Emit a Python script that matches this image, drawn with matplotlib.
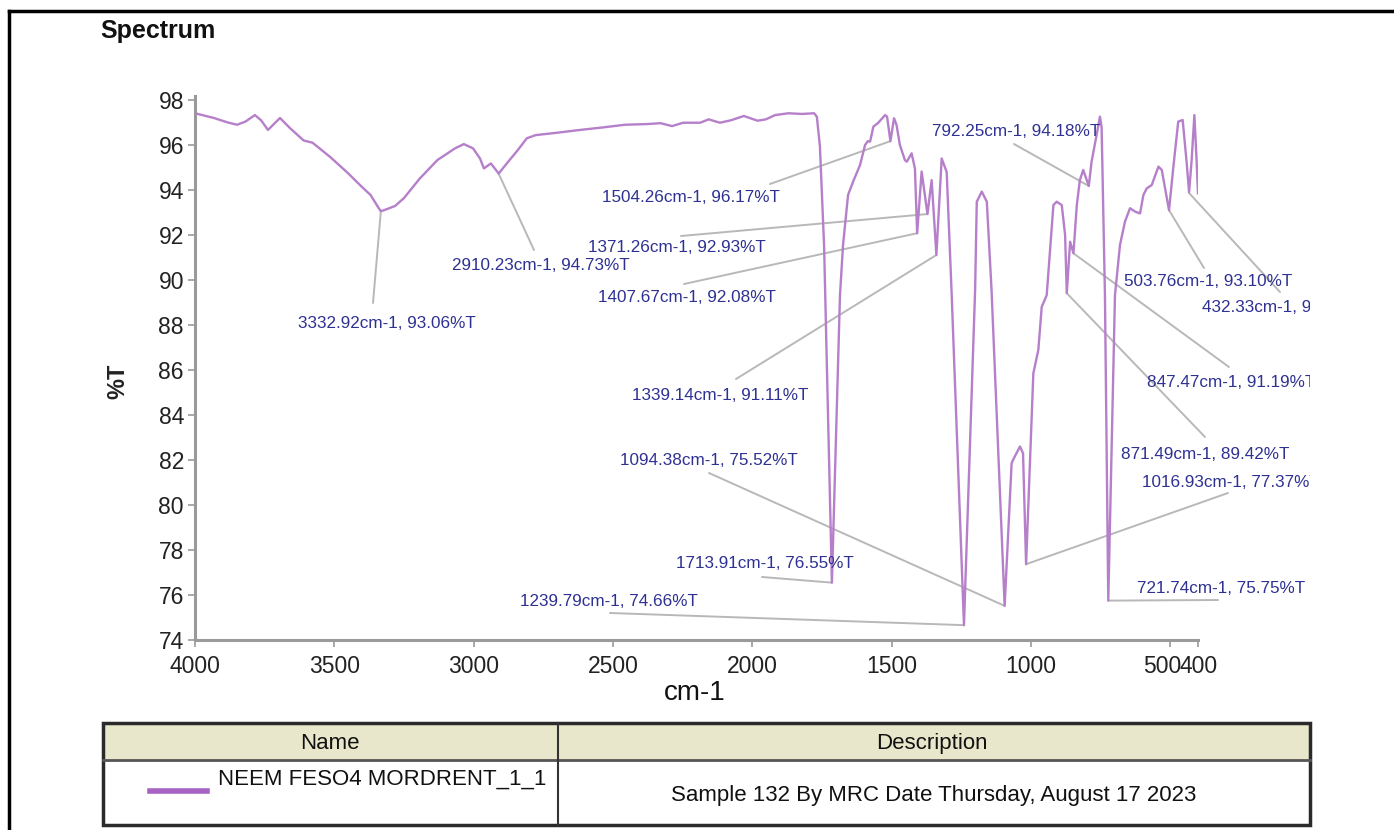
import matplotlib
matplotlib.use("Agg")
import matplotlib.pyplot as plt
from matplotlib.patches import Rectangle
from matplotlib.lines import Line2D
from matplotlib.transforms import Bbox, TransformedBbox, ScaledTranslation

# spectrum trace (wavenumber cm-1, %T)
wavenumber = [4000, 3932, 3882, 3849, 3819, 3785, 3763, 3738, 3695, 3659, 3610, 3578,
              3515, 3451, 3402, 3370, 3341, 3333, 3322, 3282, 3250, 3194, 3130, 3067,
              3035, 3002, 2977, 2963, 2938, 2910, 2881, 2841, 2809, 2777, 2697, 2618,
              2537, 2457, 2378, 2329, 2288, 2248, 2187, 2156, 2116, 2076, 2030, 1981,
              1951, 1918, 1870, 1822, 1778, 1768, 1757, 1742, 1714, 1685, 1674, 1656,
              1638, 1613, 1595, 1585, 1577, 1565, 1549, 1523, 1516, 1504, 1491, 1482,
              1470, 1452, 1445, 1428, 1416, 1408, 1392, 1371, 1356, 1339, 1320, 1302,
              1284, 1240, 1200, 1194, 1176, 1158, 1141, 1094, 1069, 1064, 1039, 1028,
              1017, 991, 973, 961, 943, 919, 907, 889, 877, 871, 859, 847, 835, 824,
              812, 792, 782, 764, 752, 746, 734, 722, 698, 680, 662, 644, 626, 608,
              596, 584, 566, 542, 530, 518, 504, 489, 471, 455, 441, 432, 423, 413,
              405, 400]
transmittance = [97.41, 97.2, 97.0, 96.9, 97.04, 97.33, 97.1, 96.67, 97.2, 96.75, 96.2, 96.1,
                 95.47, 94.75, 94.15, 93.78, 93.2, 93.06, 93.1, 93.29, 93.64, 94.5, 95.33, 95.85,
                 96.04, 95.85, 95.4, 94.96, 95.18, 94.73, 95.18, 95.78, 96.3, 96.44, 96.55, 96.67,
                 96.78, 96.9, 96.93, 96.97, 96.84, 96.99, 96.99, 97.14, 96.99, 97.1, 97.29, 97.08,
                 97.14, 97.33, 97.41, 97.38, 97.41, 97.26, 95.93, 91.5, 76.55, 89.33, 91.56, 93.78,
                 94.37, 95.11, 96.0, 96.17, 96.15, 96.82, 96.97, 97.33, 97.26, 96.17, 97.19, 96.89,
                 96.0, 95.33, 95.26, 95.63, 94.96, 92.08, 94.82, 92.93, 94.44, 91.11, 95.4, 94.8,
                 89.33, 74.66, 89.56, 93.48, 93.93, 93.48, 89.56, 75.52, 81.85, 82.0, 82.6, 82.3,
                 77.37, 85.85, 86.9, 88.8, 89.33, 93.33, 93.48, 93.33, 92.0, 89.42, 91.7, 91.19,
                 93.33, 94.44, 94.89, 94.18, 95.26, 96.44, 97.26, 96.8, 89.33, 75.75, 89.33, 91.56,
                 92.6, 93.19, 93.04, 92.96, 93.78, 94.07, 94.22, 95.04, 94.89, 94.07, 93.10, 94.96,
                 97.04, 97.11, 95.26, 93.9, 95.3, 97.33, 95.3, 93.85]

# labelled peaks
peak_wn = [3332.92, 2910.23, 1504.26, 1371.26, 1407.67, 1339.14, 1094.38, 1713.91,
           1239.79, 792.25, 503.76, 432.33, 847.47, 871.49, 1016.93, 721.74]
peak_t = [93.06, 94.73, 96.17, 92.93, 92.08, 91.11, 75.52, 76.55,
          74.66, 94.18, 93.10, 93.87, 91.19, 89.42, 77.37, 75.75]

x_ticks = [4000, 3500, 3000, 2500, 2000, 1500, 1000, 500, 400]
y_ticks = list(range(74, 99, 2))

sample_name = "NEEM FESO4 MORDRENT_1_1"
sample_desc = "Sample 132 By MRC Date Thursday, August 17 2023"

# label layout, figure pixels from top-left: text left x, text centre y, leader start
label_xy = [(298, 323), (452, 265), (602, 198), (588, 247), (598, 298), (632, 395),
            (620, 460), (676, 564), (520, 602), (932, 132), (1124, 281), (1202, 307),
            (1147, 382), (1121, 454), (1142, 482), (1137, 588)]
leader_xy = [(373, 303), (534, 250), (770, 184), (681, 236), (684, 284), (736, 379),
             (709, 473), (762, 577), (610, 613), (1014, 144), (1204, 268), (1280, 292),
             (1229, 367), (1205, 437), (1228, 493), (1218, 600)]

W, H = 1394, 830
line_col = "#b67fca"
lbl_col = "#2e3192"
narrow = ["Liberation Sans Narrow", "Liberation Sans", "DejaVu Sans"]
regular = ["Liberation Sans", "DejaVu Sans"]

fig = plt.figure(figsize=(W / 100, H / 100), dpi=100)


def fx(px):
    return px / W


def fy(py):
    return 1 - py / H


ax_top, ax_bot = 95.5, 640
ax = fig.add_axes([fx(195), fy(ax_bot), fx(1198) - fx(195), fy(ax_top) - fy(ax_bot)])
ax.plot(wavenumber, transmittance, color=line_col, lw=1.7, zorder=3)
ax.set_xlim(4000, 400)
ax.set_ylim(74, 98.2)
ax.set_xticks(x_ticks)
ax.set_yticks(y_ticks)
for s in ["top", "right"]:
    ax.spines[s].set_visible(False)
for s in ["left", "bottom"]:
    ax.spines[s].set_color("#9a9a9a")
    ax.spines[s].set_linewidth(2.2)
ax.tick_params(direction="out", length=5, width=1.2, color="#9a9a9a",
               labelcolor="#222222", labelsize=16.5)
ax.tick_params(axis="y", pad=3)
ax.tick_params(axis="x", pad=6)
for t in ax.get_xticklabels() + ax.get_yticklabels():
    t.set_family(narrow)
# the 500 and 400 labels sit side by side as "500400"
xl = ax.get_xticklabels()
xl[-2].set_transform(xl[-2].get_transform() + ScaledTranslation(-8 / 100, 0, fig.dpi_scale_trans))
xl[-1].set_transform(xl[-1].get_transform() + ScaledTranslation(1 / 100, 0, fig.dpi_scale_trans))

clip = TransformedBbox(Bbox([[0, 0], [fx(1310), 1]]), fig.transFigure)

for wn, tv, (tx, ty), (lx, ly) in zip(peak_wn, peak_t, label_xy, leader_xy):
    ax.annotate("", xy=(wn, tv), xycoords="data",
                xytext=(lx, H - ly), textcoords="figure pixels",
                arrowprops=dict(arrowstyle="-", color="#b8b8b8", lw=1.4,
                                shrinkA=0, shrinkB=0),
                annotation_clip=False, zorder=2)
    txt = fig.text(fx(tx), fy(ty), f"{wn:.2f}cm-1, {tv:.2f}%T", color=lbl_col,
                   fontsize=12.3, family=narrow, ha="left", va="center")
    txt.set_clip_box(clip)
    txt.set_clip_on(True)

fig.text(fx(100), fy(38), "Spectrum", fontsize=18, fontweight="bold",
         family=regular, ha="left", va="baseline", color="#111111")
fig.text(fx(118), fy(381), "%T", fontsize=17, fontweight="bold", family=regular,
         rotation=90, ha="center", va="center", color="#222222")
fig.text(fx(695), fy(693), "cm-1", fontsize=20, family=narrow,
         ha="center", va="center", color="#111111")

# figure frame
fig.add_artist(Line2D([fx(9), fx(9)], [fy(11), 0], color="black", lw=2.5,
                      transform=fig.transFigure))
fig.add_artist(Line2D([fx(9), 1], [fy(11), fy(11)], color="black", lw=2.5,
                      transform=fig.transFigure))

# legend table
t_l, t_r, t_top, t_mid, t_bot, t_col = 103, 1310, 723, 760, 825, 558
fig.add_artist(Rectangle((fx(t_l), fy(t_mid)), fx(t_r) - fx(t_l), fy(t_top) - fy(t_mid),
                         transform=fig.transFigure, facecolor="#e8e7cb", edgecolor="none"))
fig.add_artist(Rectangle((fx(t_l), fy(t_bot)), fx(t_r) - fx(t_l), fy(t_top) - fy(t_bot),
                         transform=fig.transFigure, facecolor="none",
                         edgecolor="#2a2a2a", lw=2.5))
fig.add_artist(Line2D([fx(t_l), fx(t_r)], [fy(t_mid), fy(t_mid)], color="#555555", lw=2,
                      transform=fig.transFigure))
fig.add_artist(Line2D([fx(t_col), fx(t_col)], [fy(t_top), fy(t_bot)], color="#333333",
                      lw=1.5, transform=fig.transFigure))
fig.add_artist(Line2D([fx(150), fx(207)], [fy(791), fy(791)], color="#a763c3", lw=4,
                      transform=fig.transFigure))

fig.text(fx(330), fy(743), "Name", fontsize=16, family=regular, ha="center",
         va="center", color="#111111")
fig.text(fx(932), fy(743), "Description", fontsize=16, family=regular, ha="center",
         va="center", color="#111111")
fig.text(fx(218), fy(779), sample_name, fontsize=16, family=regular, ha="left",
         va="center", color="#111111")
fig.text(fx(934), fy(795), sample_desc, fontsize=16, family=regular, ha="center",
         va="center", color="#111111")

fig.savefig("out.png", dpi=100, facecolor="white")
